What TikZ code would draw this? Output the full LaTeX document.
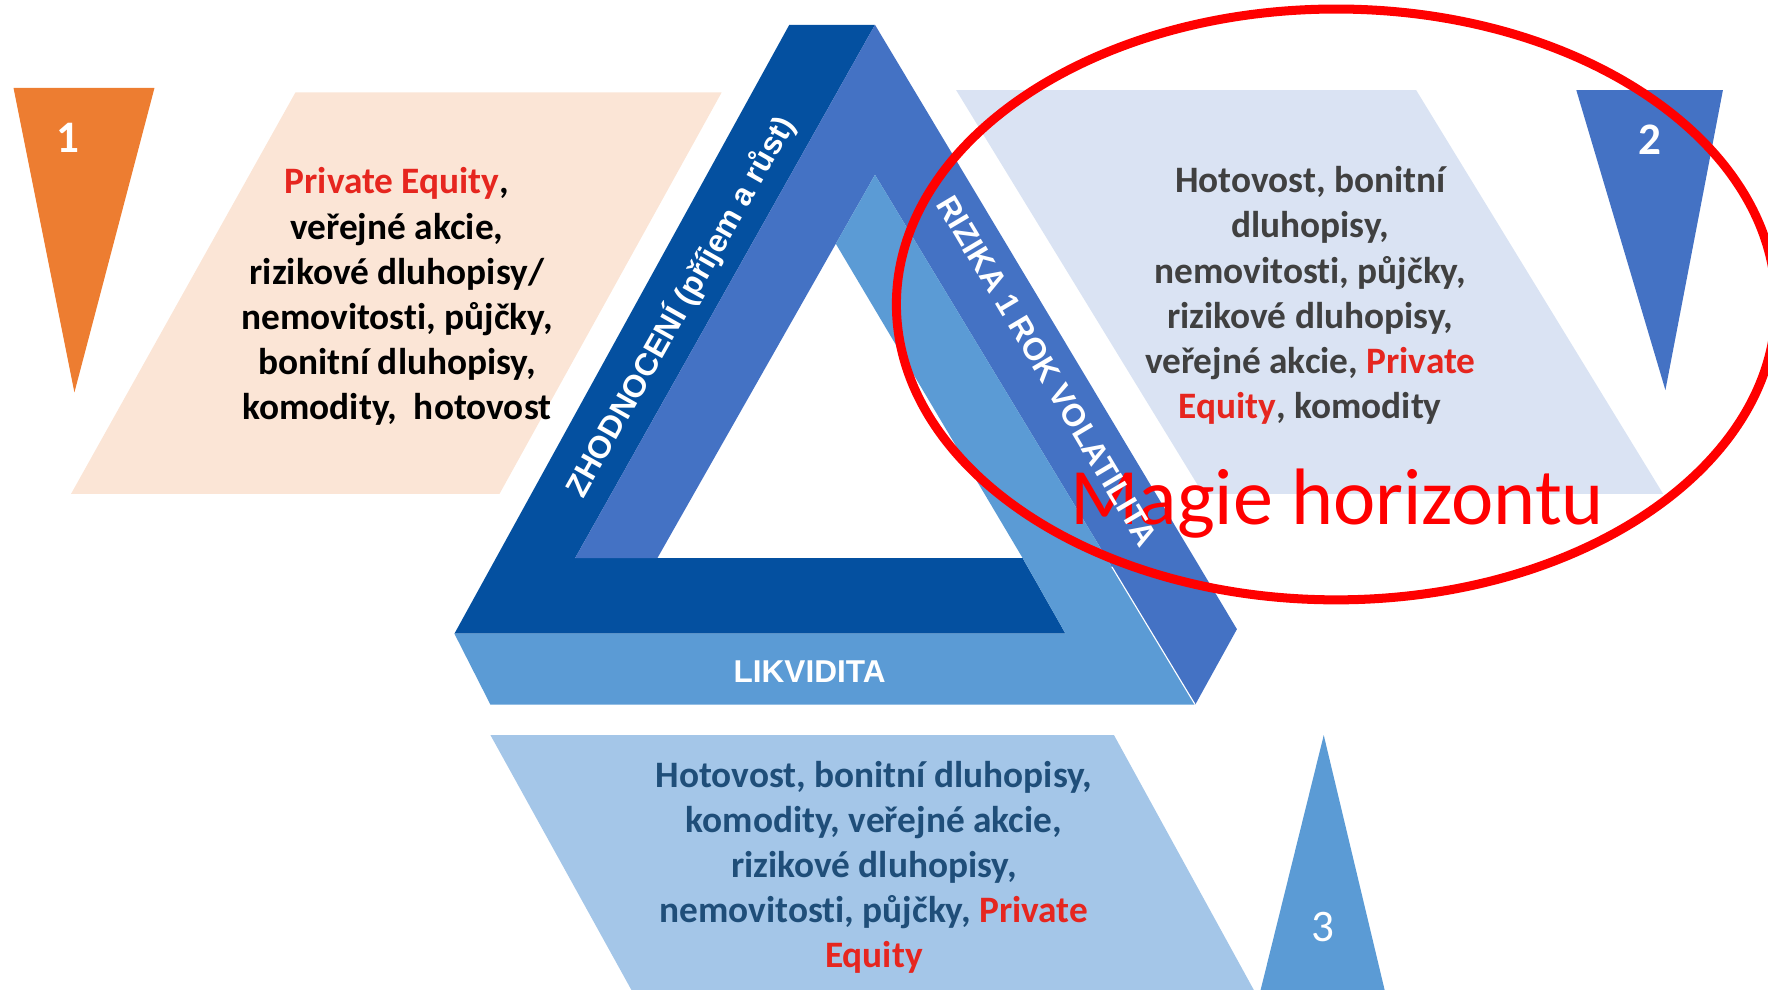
\documentclass[tikz,border=0pt]{standalone}
\usepackage{fontspec}
\setmainfont{Carlito}[Ligatures=CommonOff]
\newfontfamily\arialfont{Liberation Sans}
\usepackage{tikz}
\usetikzlibrary{calc}
\definecolor{horDark}{HTML}{0450A0}
\definecolor{horBlue}{HTML}{4472C4}
\definecolor{horSky}{HTML}{5B9BD5}
\definecolor{horPale}{HTML}{DAE3F3}
\definecolor{horIce}{HTML}{A4C6E8}
\definecolor{horPeach}{HTML}{FBE5D6}
\definecolor{horOrange}{HTML}{ED7D31}
\definecolor{horRed}{HTML}{E6261F}
\definecolor{horGray}{HTML}{404040}
\definecolor{horInk}{HTML}{1F4E79}
\tikzset{
  assets/.style={align=center,inner sep=0pt,
    font=\fontsize{33.1}{40}\selectfont\bfseries},
  band/.style={text=white,inner sep=0pt,
    font=\arialfont\fontsize{28}{30}\selectfont\bfseries},
  tiernum/.style={text=white,inner sep=0pt,font=\fontsize{40}{44}\selectfont}
}
\newcommand{\redword}[1]{\textcolor{horRed}{#1}}

\begin{document}
\begin{tikzpicture}[x=1pt,y=-1pt]
  \useasboundingbox (0,0) rectangle (1568,878);
  % panels with the asset lists
  \fill[horPeach] (262,82) -- (640,82) -- (443,438) -- (63,438) -- cycle;
  \fill[horPale] (848,80) -- (1256,80) -- (1475,438) -- (1067,438) -- cycle;
  \fill[horIce] (435,652) -- (988,652) -- (1112,878) -- (560,878) -- cycle;
  % wedges 1 2 3
  \fill[horOrange] (12,78) -- (137,78) -- (66,348) -- cycle;
  \fill[horBlue] (1398,80) -- (1528,80) -- (1477,346) -- cycle;
  \fill[horSky] (1174,652) -- (1228,878) -- (1118,878) -- cycle;
  % impossible triangle
  \coordinate (wtop) at ($(583,495)!0.82!(776,155)$);
  \fill[horDark] (700,22) -- (776,22) -- (510,495) -- (907,495) -- (945,562)
    -- (403,562) -- cycle;
  \fill[horBlue] (776,22) -- (1097,558) -- (1060,625) -- (776,155) -- (583,495)
    -- (510,495) -- cycle;
  \fill[horSky] (403,562) -- (945,562) -- (907,495) -- (wtop) -- (776,155)
    -- (1060,625) -- (435,625) -- cycle;
  \draw[white,line width=1pt] ($(776,155)!0.74!(1060,625)$) -- (1060,625);

  \node[tiernum,font=\fontsize{40}{44}\selectfont\bfseries] (numA) at (60,122) {1};
  \node[tiernum,font=\fontsize{40}{44}\selectfont\bfseries] (numB) at (1463,124) {2};
  \node[tiernum] (numC) at (1173,822) {3};

  \node[assets] (txtLeft) at (352,263)
    {\redword{Private Equity},\\ veřejné akcie,\\ rizikové dluhopisy/\\
     nemovitosti, půjčky,\\ bonitní dluhopisy,\\ komodity,\ \ hotovost};
  \node[assets,text=horGray] (txtRight) at (1162,262)
    {Hotovost, bonitní\\ dluhopisy,\\ nemovitosti, půjčky,\\ rizikové dluhopisy,\\
     veřejné akcie, \redword{Private}\\ \redword{Equity}, komodity};
  \node[assets,text=horInk] (txtBottom) at (775,769)
    {Hotovost, bonitní dluhopisy,\\ komodity, veřejné akcie,\\ rizikové dluhopisy,\\
     nemovitosti, půjčky, \redword{Private}\\ \redword{Equity}};

  \draw[red,line width=8pt] (1185,270) ellipse [x radius=390,y radius=262];
  \node[text=red,inner sep=0pt,anchor=base,font=\fontsize{71}{80}\selectfont]
    (lblMagie) at (1186,465) {Magie horizontu};

  \node[band,rotate=60.5] (lblZhod) at (603,272) {ZHODNOCENÍ (příjem a růst)};
  \node[band,rotate=-59.3] (lblRiz) at (929,329) {RIZIKA 1 ROK VOLATILITA};
  \node[band] (lblLikv) at (718,596) {LIKVIDITA};
\end{tikzpicture}
\end{document}
